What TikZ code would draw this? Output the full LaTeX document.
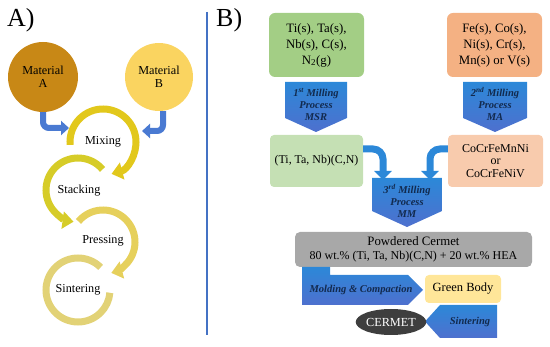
\documentclass[tikz,border=0pt]{standalone}
\usepackage{fontspec}
\setmainfont{Liberation Serif}
\usetikzlibrary{arrows.meta,backgrounds,calc,shapes.geometric}
\definecolor{matAcol}{RGB}{200,136,22}
\definecolor{matBcol}{RGB}{250,212,96}
\definecolor{mixcol}{RGB}{226,200,28}
\definecolor{stackcol}{RGB}{214,204,40}
\definecolor{presscol}{RGB}{230,208,92}
\definecolor{sintcol}{RGB}{226,210,118}
\definecolor{barcol}{RGB}{74,122,210}
\definecolor{divcol}{RGB}{68,114,196}
\definecolor{grncol}{RGB}{163,206,133}
\definecolor{orgcol}{RGB}{244,177,131}
\definecolor{lgrncol}{RGB}{197,224,180}
\definecolor{lorgcol}{RGB}{248,203,173}
\definecolor{calltop}{RGB}{44,136,216}
\definecolor{callbot}{RGB}{78,112,206}
\definecolor{calltxt}{RGB}{18,42,78}
\definecolor{greycol}{RGB}{168,168,168}
\definecolor{gbcol}{RGB}{255,230,153}
\definecolor{cermcol}{RGB}{62,62,62}
\newcommand\callfont{\fontsize{10.5}{12}\selectfont\bfseries\itshape}
\tikzset{
  yarc/.style={line width=7, -{Triangle[width=17,length=11]}},
  bentarrow/.style={draw=barcol, line width=6, rounded corners=6, -{Triangle[width=14,length=8]}},
  mergearrow/.style={draw=calltop, line width=7, rounded corners=10, -{Triangle[width=17,length=9]}},
  box/.style={rounded corners=6, inner sep=2, align=center, font=\fontsize{12.8}{16}\selectfont},
  calltext/.style={align=center, text=calltxt, font=\callfont},
  callshape/.style={top color=calltop, bottom color=callbot, draw=none},
}
\newcommand\mydcall[5]{\path[callshape] (#1-#3/2,-#2) -- (#1+#3/2,-#2) -- (#1+#3/2,-#2-#4) -- (#1,-#2-#4-#5) -- (#1-#3/2,-#2-#4) -- cycle;}
\begin{document}
\begin{tikzpicture}[x=1pt,y=1pt,font=\fontsize{12.2}{13.5}\selectfont]
\useasboundingbox (0,0) rectangle (550,-347);
% ---------- Panel A ----------
\node[font=\fontsize{26}{26}\selectfont, anchor=west, inner sep=0] (labA) at (7,-20) {A)};
\node[circle, fill=matAcol, minimum size=70, inner sep=0, align=center] (matA) at (43,-77) {Material\\A};
\node[circle, fill=matBcol, minimum size=68, inner sep=0, align=center] (matB) at (159,-77) {Material\\B};
% process arcs
\draw[line width=7, sintcol] (78,-290) ++(45:32) arc[start angle=45, end angle=355, radius=32];
\draw[yarc, presscol] (103,-242) ++(140:32) arc[start angle=140, end angle=-75, radius=32];
\draw[yarc, stackcol] (78,-190) ++(40:32) arc[start angle=40, end angle=262, radius=32];
\draw[yarc, mixcol] (103,-142) ++(185:33) arc[start angle=185, end angle=-75, radius=33];
\node (mix) at (103,-142) {Mixing};
\node (stack) at (79,-191) {Stacking};
\node (press) at (103,-241) {Pressing};
\node (sint) at (78,-290) {Sintering};
\coordinate (mixL) at (69,-128);
\coordinate (mixR) at (142,-131);
\draw[bentarrow] (matA.south) |- (mixL);
\draw[bentarrow] ([xshift=4]matB.south) |- (mixR);
% divider
\draw[divcol, line width=2.5] (207,-12) -- (207,-335);
% ---------- Panel B ----------
\node[font=\fontsize{26}{26}\selectfont, anchor=west, inner sep=0] (labB) at (216,-20) {B)};
\node[box, fill=grncol, minimum width=95, minimum height=64] (raw1) at (316.5,-45) {Ti(s), Ta(s),\\Nb(s), C(s),\\N\textsubscript{2}(g)};
\node[box, fill=orgcol, minimum width=95, minimum height=64] (raw2) at (494.5,-45) {Fe(s), Co(s),\\Ni(s), Cr(s),\\Mn(s) or V(s)};
\mydcall{316}{82}{62}{36}{14}
\node[calltext] (m1) at (316,-104) {\callfont 1\textsuperscript{st} Milling\\\callfont Process\\\callfont MSR};
\mydcall{495}{82}{64}{36}{14}
\node[calltext] (m2) at (495,-104) {\callfont 2\textsuperscript{nd} Milling\\\callfont Process\\\callfont MA};
\node[box, rounded corners=4, fill=lgrncol, minimum width=93, minimum height=52, font=\fontsize{11.9}{13}\selectfont] (ttn) at (316.5,-161) {(Ti, Ta, Nb)(C,N)};
\node[box, rounded corners=4, fill=lorgcol, minimum width=95, minimum height=52, font=\fontsize{12}{12.5}\selectfont] (hea) at (495.5,-161) {CoCrFeMnNi\\or\\CoCrFeNiV};
\mydcall{407}{178}{70}{33}{16}
\node[calltext] (m3) at (407,-201) {\callfont 3\textsuperscript{rd} Milling\\\callfont Process\\\callfont MM};
\coordinate (m3inL) at (383,-180);
\coordinate (m3inR) at (430,-180);
\draw[mergearrow] ([yshift=12]ttn.east) -| (m3inL);
\draw[mergearrow] ([yshift=12]hea.west) -| (m3inR);
% powdered cermet
\node[box, rounded corners=5, fill=greycol, minimum width=237, minimum height=35, font=\fontsize{12}{14}\selectfont] (pc) at (413.5,-249.5) {\fontsize{12.8}{14}\selectfont Powdered Cermet\\80 wt.\% (Ti, Ta, Nb)(C,N) + 20 wt.\% HEA};
\path[callshape] (302,-267) -- (330,-267) -- (330,-275) -- (408,-275) -- (423,-290) -- (408,-305) -- (302,-305) -- cycle;
\node[calltext] (mold) at (361,-290) {Molding \& Compaction};
\node[box, rounded corners=4, fill=gbcol, minimum width=76, minimum height=28, font=\fontsize{12.5}{13}\selectfont] (gb) at (463,-289) {Green Body};
\path[callshape] (497,-305) -- (497,-338) -- (440,-338) -- (425,-321.5) -- (440,-305) -- cycle;
\node[calltext] (sinter) at (470,-322) {Sintering};
\node[ellipse, fill=cermcol, text=white, minimum width=66, minimum height=26, inner sep=0, font=\fontsize{12.3}{13}\selectfont] (cermet) at (391,-322) {CERMET};
\end{tikzpicture}
\end{document}
